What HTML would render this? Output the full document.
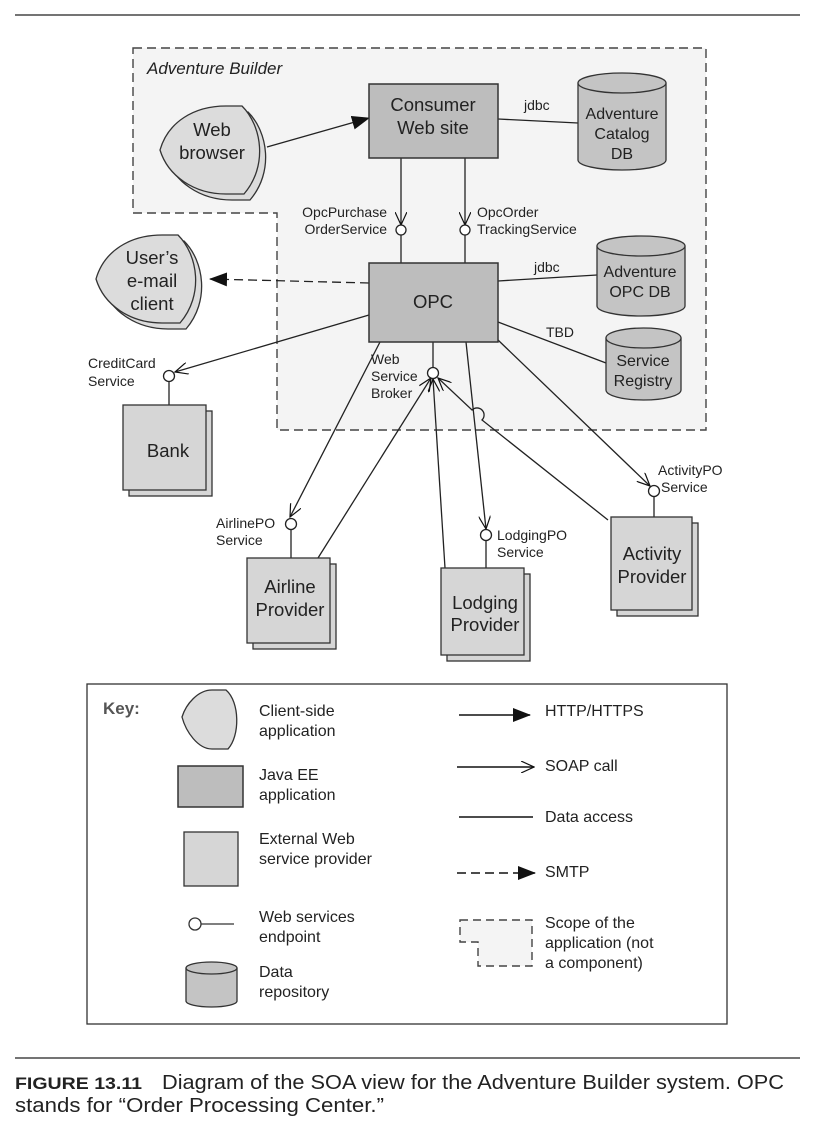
<!DOCTYPE html>
<html><head><meta charset="utf-8"><style>
html,body{margin:0;padding:0;background:#fff}
svg{display:block;font-family:"Liberation Sans",Arial,sans-serif}
</style></head><body>
<svg width="816" height="1128" viewBox="0 0 816 1128" xmlns="http://www.w3.org/2000/svg">
<defs>
<marker id="fa" markerWidth="12" markerHeight="10" refX="11" refY="5" orient="auto" markerUnits="userSpaceOnUse"><path d="M0,0 L12,5 L0,10 Z" fill="#111"/></marker>
<marker id="fb" markerWidth="18" markerHeight="14" refX="17" refY="7" orient="auto" markerUnits="userSpaceOnUse"><path d="M0,0 L18,7 L0,14 Z" fill="#111"/></marker>
<marker id="oa" markerWidth="14" markerHeight="12" refX="13" refY="6" orient="auto" markerUnits="userSpaceOnUse"><path d="M0,0 L13,6 L0,12" fill="none" stroke="#111" stroke-width="1.2"/></marker>
</defs>
<line x1="15" y1="15" x2="800" y2="15" stroke="#222" stroke-width="1.2"/>
<path d="M133,48 L706,48 L706,430 L277,430 L277,213 L133,213 Z" fill="#f4f4f4" stroke="#444" stroke-width="1.4" stroke-dasharray="9,5"/>
<text x="147" y="74" font-size="17" font-style="italic" fill="#222">Adventure Builder</text>

<g stroke="#222" stroke-width="1.3" fill="none">
<line x1="498" y1="119" x2="578" y2="123"/>
<line x1="498" y1="281" x2="597" y2="275"/>
<line x1="498" y1="322" x2="606" y2="363"/>
<line x1="267" y1="147" x2="369" y2="118" marker-end="url(#fb)"/>
<line x1="369" y1="283" x2="210" y2="279" stroke-dasharray="9,5" marker-end="url(#fb)"/>
<line x1="401" y1="158" x2="401" y2="225" marker-end="url(#oa)"/>
<line x1="401" y1="235" x2="401" y2="263"/>
<line x1="465" y1="158" x2="465" y2="225" marker-end="url(#oa)"/>
<line x1="465" y1="235" x2="465" y2="263"/>
<line x1="369" y1="315" x2="175" y2="372" marker-end="url(#oa)"/>
<line x1="169" y1="381" x2="169" y2="405"/>
<line x1="433" y1="342" x2="433" y2="368"/>
<line x1="318" y1="558" x2="431" y2="378" marker-end="url(#oa)"/>
<line x1="445" y1="568" x2="433" y2="379" marker-end="url(#oa)"/>
<path d="M608,520 L482,420 A6,6 0 0 0 472,410 L438,378" marker-end="url(#oa)"/>
<line x1="380" y1="342" x2="290" y2="517" marker-end="url(#oa)"/>
<line x1="291" y1="529" x2="291" y2="558"/>
<line x1="466" y1="342" x2="486" y2="529" marker-end="url(#oa)"/>
<line x1="486" y1="541" x2="486" y2="568"/>
<line x1="498" y1="340" x2="650" y2="486" marker-end="url(#oa)"/>
<line x1="654" y1="497" x2="654" y2="517"/>
</g>
<g fill="#fff" stroke="#222" stroke-width="1.3">
<circle cx="401" cy="230" r="5"/><circle cx="465" cy="230" r="5"/>
<circle cx="169" cy="376" r="5.5"/><circle cx="433" cy="373" r="5.5"/>
<circle cx="291" cy="524" r="5.5"/><circle cx="486" cy="535" r="5.5"/>
<circle cx="654" cy="491" r="5.5"/>
</g>

<rect x="369" y="84" width="129" height="74" fill="#bdbdbd" stroke="#333" stroke-width="1.5"/>
<rect x="369" y="263" width="129" height="79" fill="#bdbdbd" stroke="#333" stroke-width="1.5"/>
<g fill="#d6d6d6" stroke="#333" stroke-width="1.3">
<rect x="129" y="411" width="83" height="85"/><rect x="123" y="405" width="83" height="85"/>
<rect x="253" y="564" width="83" height="85"/><rect x="247" y="558" width="83" height="85"/>
<rect x="447" y="574" width="83" height="87"/><rect x="441" y="568" width="83" height="87"/>
<rect x="617" y="523" width="81" height="93"/><rect x="611" y="517" width="81" height="93"/>
</g>
<g fill="#c4c4c4" stroke="#333" stroke-width="1.3">
<path d="M578,83 L578,160 A44,10 0 0 0 666,160 L666,83"/><ellipse cx="622" cy="83" rx="44" ry="10"/>
<path d="M597,246 L597,306 A44,10 0 0 0 685,306 L685,246"/><ellipse cx="641" cy="246" rx="44" ry="10"/>
<path d="M606,338 L606,390 A37.5,10 0 0 0 681,390 L681,338"/><ellipse cx="643.5" cy="338" rx="37.5" ry="10"/>
</g>
<g fill="#dcdcdc" stroke="#333" stroke-width="1.3">
<path d="M166,156 C174,128 200,112 232,112 L248,112 C268,132 274,172 250,200 L232,200 C200,200 174,182 166,156 Z"/>
<path d="M160,150 C168,122 194,106 226,106 L242,106 C262,126 268,166 244,194 L226,194 C194,194 168,176 160,150 Z"/>
<path d="M102,285 C110,257 136,241 168,241 L184,241 C204,261 210,301 186,329 L168,329 C136,329 110,311 102,285 Z"/>
<path d="M96,279 C104,251 130,235 162,235 L178,235 C198,255 204,295 180,323 L162,323 C130,323 104,305 96,279 Z"/>
</g>

<g font-size="18.5" fill="#222" text-anchor="middle">
<text x="433" y="111">Consumer</text><text x="433" y="134">Web site</text>
<text x="433" y="308">OPC</text>
<text x="212" y="136">Web</text><text x="212" y="159">browser</text>
<text x="152" y="264">User’s</text><text x="152" y="287">e-mail</text><text x="152" y="310">client</text>
<text x="168" y="457">Bank</text>
<text x="290" y="593">Airline</text><text x="290" y="616">Provider</text>
<text x="485" y="609">Lodging</text><text x="485" y="631">Provider</text>
<text x="652" y="560">Activity</text><text x="652" y="583">Provider</text>
</g>
<g font-size="16" fill="#222" text-anchor="middle">
<text x="622" y="119">Adventure</text><text x="622" y="139">Catalog</text><text x="622" y="159">DB</text>
<text x="640" y="277">Adventure</text><text x="640" y="297">OPC DB</text>
<text x="643" y="366">Service</text><text x="643" y="386">Registry</text>
</g>
<g font-size="14" fill="#222">
<text x="524" y="110">jdbc</text><text x="534" y="272">jdbc</text><text x="546" y="337">TBD</text>
<text x="387" y="217" text-anchor="end">OpcPurchase</text><text x="387" y="234" text-anchor="end">OrderService</text>
<text x="477" y="217">OpcOrder</text><text x="477" y="234">TrackingService</text>
<text x="88" y="368">CreditCard</text><text x="88" y="386">Service</text>
<text x="371" y="364">Web</text><text x="371" y="381">Service</text><text x="371" y="398">Broker</text>
<text x="216" y="528">AirlinePO</text><text x="216" y="545">Service</text>
<text x="497" y="540">LodgingPO</text><text x="497" y="557">Service</text>
<text x="658" y="475">ActivityPO</text><text x="661" y="492">Service</text>
</g>

<rect x="87" y="684" width="640" height="340" fill="#fff" stroke="#333" stroke-width="1.3"/>
<text x="103" y="714" font-size="17" font-weight="bold" fill="#555">Key:</text>
<path d="M182,717 C186,704 198,690 212,690 L226,690 C240,702 240,736 228,749 L212,749 C198,749 186,732 182,717 Z" fill="#dcdcdc" stroke="#333" stroke-width="1.3"/>
<rect x="178" y="766" width="65" height="41" fill="#bdbdbd" stroke="#333" stroke-width="1.5"/>
<rect x="184" y="832" width="54" height="54" fill="#d6d6d6" stroke="#333" stroke-width="1.3"/>
<circle cx="195" cy="924" r="6" fill="#fff" stroke="#333" stroke-width="1.3"/>
<line x1="201" y1="924" x2="234" y2="924" stroke="#333" stroke-width="1.3"/>
<path d="M186,968 L186,1001 A25.5,6 0 0 0 237,1001 L237,968" fill="#c4c4c4" stroke="#333" stroke-width="1.3"/>
<ellipse cx="211.5" cy="968" rx="25.5" ry="6" fill="#c4c4c4" stroke="#333" stroke-width="1.3"/>
<g stroke="#111" stroke-width="1.4" fill="none">
<line x1="459" y1="715" x2="530" y2="715" marker-end="url(#fb)"/>
<line x1="457" y1="767" x2="534" y2="767" marker-end="url(#oa)"/>
<line x1="459" y1="817" x2="533" y2="817"/>
<line x1="457" y1="873" x2="535" y2="873" stroke-dasharray="9,5" marker-end="url(#fb)"/>
</g>
<path d="M460,920 L532,920 L532,966 L478,966 L478,942 L460,942 Z" fill="#f4f4f4" stroke="#444" stroke-width="1.4" stroke-dasharray="8,5"/>
<g font-size="16" fill="#222">
<text x="259" y="716">Client-side</text><text x="259" y="736">application</text>
<text x="259" y="780">Java EE</text><text x="259" y="800">application</text>
<text x="259" y="844">External Web</text><text x="259" y="864">service provider</text>
<text x="259" y="922">Web services</text><text x="259" y="942">endpoint</text>
<text x="259" y="977">Data</text><text x="259" y="997">repository</text>
<text x="545" y="716">HTTP/HTTPS</text>
<text x="545" y="771">SOAP call</text>
<text x="545" y="822">Data access</text>
<text x="545" y="877">SMTP</text>
<text x="545" y="928">Scope of the</text><text x="545" y="948">application (not</text><text x="545" y="968">a component)</text>
</g>

<line x1="15" y1="1058" x2="800" y2="1058" stroke="#222" stroke-width="1.2"/>
<text x="15" y="1089" font-size="17" font-weight="bold" fill="#222" textLength="127" lengthAdjust="spacingAndGlyphs">FIGURE 13.11</text>
<text x="162" y="1089" font-size="20" fill="#222" textLength="622" lengthAdjust="spacingAndGlyphs">Diagram of the SOA view for the Adventure Builder system. OPC</text>
<text x="15" y="1112" font-size="20" fill="#222" textLength="369" lengthAdjust="spacingAndGlyphs">stands for “Order Processing Center.”</text>
</svg>
</body></html>
